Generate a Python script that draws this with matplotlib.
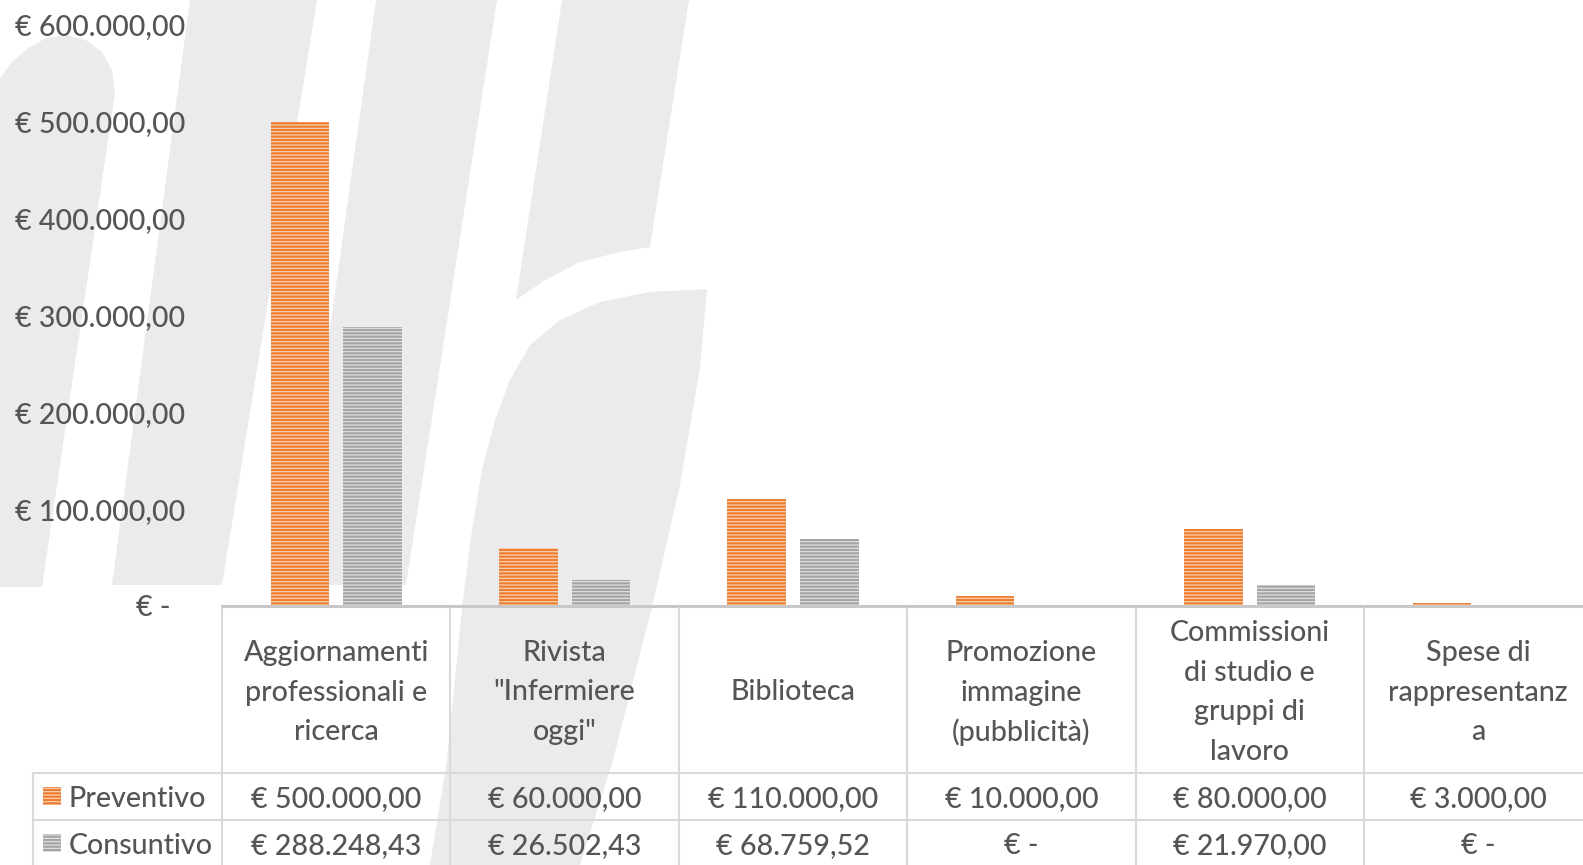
import matplotlib
matplotlib.use("Agg")
import matplotlib.pyplot as plt
from matplotlib.patches import Polygon, Rectangle
from matplotlib.transforms import offset_copy
import numpy as np

# ---------------- data ----------------
categories = [
    "Aggiornamenti\nprofessionali e\nricerca",
    "Rivista\n\"Infermiere\noggi\"",
    "Biblioteca",
    "Promozione\nimmagine\n(pubblicità)",
    "Commissioni\ndi studio e\ngruppi di\nlavoro",
    "Spese di\nrappresentanz\na",
]
series_names = ["Preventivo", "Consuntivo"]
preventivo = [500000.00, 60000.00, 110000.00, 10000.00, 80000.00, 3000.00]
consuntivo = [288248.43, 26502.43, 68759.52, 0.00, 21970.00, 0.00]
y_ticks = [0, 100000, 200000, 300000, 400000, 500000, 600000]


def eur(v):
    if v == 0:
        return "€ -"
    s = f"{v:,.2f}".replace(",", "X").replace(".", ",").replace("X", ".")
    return "€ " + s


# ---------------- style ----------------
W, H, DPI = 1583, 865, 100
FONT = ["Lato", "DejaVu Sans"]
WEIGHT = 500
TXT = "#555555"
ORANGE, ORANGE_L = "#ED7D31", "#FAD7BE"
GRAY, GRAY_L = "#A5A5A5", "#E4E4E4"
WM = "#EBEBEB"
GRID = "#D9D9D9"
HATCH = "-----"
DY = 2.5  # px, small downward nudge of text
plt.rcParams["hatch.linewidth"] = 0.8
plt.rcParams["font.family"] = FONT

fig = plt.figure(figsize=(W / DPI, H / DPI), dpi=DPI)
fig.patch.set_facecolor("white")

# font size fitted so that a value label has the reference width
probe = fig.text(0, 0, "€ 500.000,00", fontsize=20, fontweight=WEIGHT)
r = fig.canvas.get_renderer()
FS = 20 * 169.6 / probe.get_window_extent(r).width
probe.remove()

# ---------------- watermark (decorative background) ----------------
bg = fig.add_axes([0, 0, 1, 1], zorder=0)
bg.set_xlim(0, W)
bg.set_ylim(H, 0)
bg.axis("off")
shapes = [
    [(0, 587), (42, 587), (115, 93), (112, 70), (102, 52), (86, 40), (66, 35),
     (46, 38), (28, 48), (12, 62), (0, 78)],
    [(190, 0), (317, 0), (222, 585), (112, 585)],
    [(376, 0), (497, 0), (406, 585), (294, 585)],
    [(562, 0), (689, 0), (650, 247), (620, 252), (580, 262), (545, 280), (516, 300)],
    [(707, 289), (700, 368), (680, 485), (653, 603), (613, 760), (580, 865),
     (430, 865), (447, 760), (463, 600), (472, 530), (482, 470), (495, 420),
     (510, 380), (530, 345), (560, 320), (600, 302), (650, 292)],
]
for pts in shapes:
    bg.add_patch(Polygon(pts, closed=True, facecolor=WM, edgecolor="none"))

# ---------------- chart ----------------
AX_L, COL_W = 222, 228.4
AX_R = AX_L + COL_W * len(categories)
AX_T, AX_B = 25, 606
ax = fig.add_axes([AX_L / W, 1 - AX_B / H, (AX_R - AX_L) / W, (AX_B - AX_T) / H], zorder=1)
ax.patch.set_alpha(0)
x = np.arange(len(categories))
bw, off = 0.256, 0.159
ax.bar(x - off, preventivo, width=bw, color=ORANGE, edgecolor=ORANGE_L,
       linewidth=0, hatch=HATCH)
ax.bar(x + off, consuntivo, width=bw, color=GRAY, edgecolor=GRAY_L,
       linewidth=0, hatch=HATCH)
ax.set_xlim(-0.5, len(categories) - 0.5)
ax.set_ylim(0, max(y_ticks))
ax.set_xticks([])
ax.set_yticks([])
for s in ["top", "right", "left"]:
    ax.spines[s].set_visible(False)
ax.spines["bottom"].set_color("#C8C8C8")
ax.spines["bottom"].set_linewidth(2.2)

ytr = offset_copy(ax.get_yaxis_transform(), fig=fig, x=0, y=-DY, units="dots")
for v in y_ticks:
    xr = (185 - AX_L) / (AX_R - AX_L) if v != 0 else (170 - AX_L) / (AX_R - AX_L)
    ax.text(xr, v, eur(v), transform=ytr, ha="right", va="center",
            fontsize=FS, fontweight=WEIGHT, color=TXT, clip_on=False)

# ---------------- data table ----------------
ov = fig.add_axes([0, 0, 1, 1], zorder=2)
ov.set_xlim(0, W)
ov.set_ylim(H, 0)
ov.axis("off")
ov.patch.set_alpha(0)

HDR_T, HDR_B, ROW_H = 607, 773, 47
LEG_L = 33.3
lw = 1.5
col_edges = [AX_L + i * COL_W for i in range(len(categories) + 1)]
for xe in col_edges:
    ov.plot([xe, xe], [HDR_T, H + 5], color=GRID, lw=lw, solid_capstyle="butt")
ov.plot([LEG_L, LEG_L], [HDR_B, H + 5], color=GRID, lw=lw)
for yy in [HDR_B, HDR_B + ROW_H]:
    ov.plot([LEG_L, W + 10], [yy, yy], color=GRID, lw=lw)

LINE_H = 39.4
hdr_c = (HDR_T + HDR_B) / 2 + DY
for i, cat in enumerate(categories):
    cx = AX_L + (i + 0.5) * COL_W
    lines = cat.split("\n")
    n = len(lines)
    for j, ln in enumerate(lines):
        ov.text(cx, hdr_c + (j - (n - 1) / 2) * LINE_H, ln, ha="center", va="center",
                fontsize=FS, fontweight=WEIGHT, color=TXT)

rows = [preventivo, consuntivo]
keys = [(ORANGE, ORANGE_L), (GRAY, GRAY_L)]
for k, (name, vals) in enumerate(zip(series_names, rows)):
    rc = HDR_B + (k + 0.5) * ROW_H
    fc, hc = keys[k]
    ov.add_patch(Rectangle((43, rc - 9.5), 18.5, 17.5, facecolor=fc, edgecolor=hc,
                           linewidth=0, hatch=HATCH))
    ov.text(69, rc + DY, name, ha="left", va="center", fontsize=FS,
            fontweight=WEIGHT, color=TXT)
    for i, v in enumerate(vals):
        cx = AX_L + (i + 0.5) * COL_W
        ov.text(cx, rc + DY, eur(v), ha="center", va="center", fontsize=FS,
                fontweight=WEIGHT, color=TXT)

fig.savefig("out.png", dpi=DPI, facecolor="white")
